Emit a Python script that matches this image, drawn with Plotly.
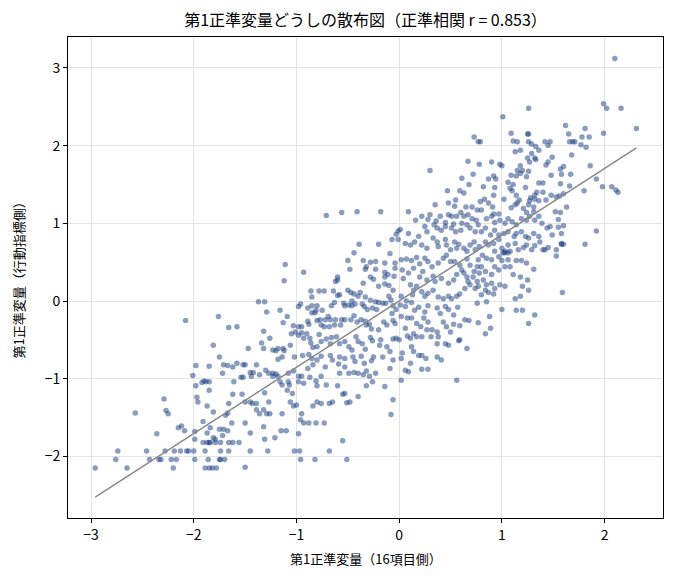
import plotly.graph_objects as go

# 正準相関（タイトル・回帰直線の傾き）
R_CANON = 0.853

# 左下の領域（16項目側 < -1.65）
lowleft = [
    (-2.08, -0.25), (-1.76, -0.20), (-1.66, -0.34), (-1.81, -0.57), (-1.75, -0.72), (-1.71, -0.82),
    (-1.67, -0.83), (-1.72, -0.93), (-1.85, -0.84), (-1.98, -0.83), (-2.01, -0.96), (-1.88, -1.04),
    (-1.90, -1.03), (-1.85, -1.04), (-1.92, -1.05), (-1.85, -1.15), (-1.98, -1.09), (-1.97, -1.24),
    (-1.96, -1.30), (-1.87, -1.35), (-1.81, -1.43), (-2.29, -1.26), (-2.27, -1.41), (-2.25, -1.45),
    (-2.57, -1.44), (-2.36, -1.71), (-2.15, -1.63), (-2.12, -1.61), (-2.09, -1.67), (-1.99, -1.68),
    (-1.99, -1.78), (-1.91, -1.55), (-1.87, -1.70), (-1.84, -1.63), (-1.91, -1.82), (-1.87, -1.82),
    (-1.85, -1.82), (-1.84, -1.82), (-1.79, -1.82), (-1.74, -1.82), (-1.66, -1.82), (-1.81, -1.76),
    (-1.79, -1.78), (-1.75, -1.65), (-1.71, -1.65), (-1.67, -1.67), (-1.67, -1.44), (-1.72, -1.73),
    (-1.66, -1.32), (-1.69, -1.47), (-2.74, -1.93), (-2.46, -1.93), (-2.28, -1.93), (-2.19, -1.93),
    (-2.13, -1.93), (-2.07, -1.93), (-2.05, -1.93), (-2.00, -1.93), (-1.89, -1.93), (-1.74, -1.93),
    (-1.66, -1.93), (-2.76, -2.04), (-2.43, -2.04), (-2.34, -2.04), (-2.32, -2.04), (-2.22, -2.04),
    (-2.17, -2.04), (-1.99, -2.04), (-1.86, -2.04), (-1.75, -2.04), (-1.74, -2.04), (-1.70, -2.04),
    (-2.96, -2.15), (-2.65, -2.15), (-2.20, -2.15), (-1.89, -2.15), (-1.85, -2.15), (-1.82, -2.15),
    (-1.78, -2.15),
]

# 中央左の領域（-1.65 〜 0）
midleft = [
    (-0.44, 0.62), (-0.09, 0.61), (-0.04, 0.49), (-0.50, 0.52), (-0.35, 0.52), (-0.28, 0.50),
    (-0.23, 0.51), (-0.14, 0.49), (-1.11, 0.47), (-0.93, 0.37), (-1.12, 0.26), (-0.48, 0.41),
    (-0.33, 0.41), (-0.32, 0.44), (-0.23, 0.41), (-0.04, 0.42), (-0.14, 0.37), (-0.11, 0.34),
    (-0.14, 0.31), (-0.05, 0.32), (-0.60, 0.31), (-0.60, 0.27), (-0.62, 0.25), (-0.28, 0.31),
    (-0.25, 0.28), (-0.35, 0.23), (-0.20, 0.19), (-0.14, 0.22), (-0.10, 0.20), (-0.06, 0.14),
    (-0.86, 0.13), (-0.78, 0.13), (-0.73, 0.13), (-0.64, 0.13), (-0.58, 0.08), (-0.50, 0.14),
    (-0.47, 0.11), (-0.44, 0.09), (-0.40, 0.06), (-0.38, 0.11), (-0.33, 0.05), (-0.28, 0.01),
    (-0.23, -0.01), (-0.13, -0.03), (-0.10, 0.06),
    (-1.37, -0.01), (-1.31, -0.01), (-1.29, -0.14), (-1.16, -0.12), (-1.09, -0.20), (-1.13, -0.28),
    (-0.96, -0.04), (-0.98, -0.07), (-0.89, -0.09), (-0.85, -0.06), (-0.85, 0.05), (-0.80, -0.06),
    (-0.82, -0.15), (-0.81, -0.12), (-0.75, -0.12), (-0.66, -0.06), (-0.63, -0.02), (-0.60, 0.07),
    (-0.54, -0.03), (-0.53, -0.06), (-0.49, -0.05), (-0.46, 0.00), (-0.46, -0.06), (-0.43, -0.04),
    (-0.36, -0.04), (-0.34, -0.07), (-0.31, -0.11), (-0.26, -0.09), (-0.22, -0.11), (-0.20, -0.02),
    (-0.16, -0.03), (-0.08, 0.01), (-0.06, -0.06), (-0.03, -0.11), (-0.07, -0.16),
    (-1.58, -0.33), (-1.32, -0.39), (-1.32, -0.61), (-1.34, -0.54), (-1.26, -0.48), (-1.47, -0.61),
    (-1.03, -0.32), (-0.98, -0.33), (-0.95, -0.33), (-0.95, -0.41), (-0.89, -0.26), (-0.88, -0.30),
    (-0.85, -0.15), (-0.80, -0.25), (-0.77, -0.24), (-0.76, -0.31), (-0.72, -0.24), (-0.73, -0.33),
    (-0.69, -0.20), (-0.67, -0.24), (-0.68, -0.33), (-0.62, -0.24), (-0.63, -0.31), (-0.57, -0.31),
    (-0.56, -0.24), (-0.53, -0.24), (-0.47, -0.24), (-0.44, -0.19), (-0.41, -0.27), (-0.37, -0.24),
    (-0.33, -0.26), (-0.32, -0.31), (-0.29, -0.30), (-0.27, -0.36), (-0.20, -0.37), (-0.15, -0.27),
    (-0.12, -0.31), (-0.06, -0.25), (-0.04, -0.29), (-0.06, -0.49), (-0.03, -0.48),
    (-1.18, -0.61), (-1.23, -0.63), (-1.20, -0.64), (-1.13, -0.61), (-1.12, -0.64), (-1.14, -0.72),
    (-1.18, -0.75), (-1.06, -0.57), (-1.05, -0.42), (-1.01, -0.40), (-0.98, -0.44), (-0.93, -0.48),
    (-0.87, -0.48), (-0.90, -0.42), (-0.86, -0.54), (-0.84, -0.60), (-0.80, -0.59), (-0.76, -0.52),
    (-0.78, -0.43), (-0.71, -0.49), (-0.67, -0.55), (-0.66, -0.47), (-0.61, -0.46), (-0.58, -0.55),
    (-0.53, -0.52), (-0.49, -0.59), (-0.46, -0.63), (-0.42, -0.46), (-0.40, -0.52), (-0.36, -0.55),
    (-0.33, -0.62), (-0.28, -0.47), (-0.26, -0.51), (-0.19, -0.57), (-0.18, -0.50), (-0.12, -0.59),
    (-0.09, -0.65),
    (-1.62, -0.85), (-1.58, -0.80), (-1.52, -0.82), (-1.50, -0.82), (-1.45, -0.92), (-1.42, -0.92),
    (-1.44, -0.97), (-1.39, -0.82), (-1.36, -0.95), (-1.54, -0.98), (-1.52, -0.98), (-1.30, -0.89),
    (-1.27, -0.93), (-1.23, -0.93), (-1.20, -0.94), (-1.18, -0.97), (-1.23, -0.97), (-1.16, -1.04),
    (-1.14, -1.08), (-1.07, -1.08), (-1.09, -1.15), (-1.04, -1.19), (-1.08, -1.04), (-1.03, -0.90),
    (-1.08, -0.93), (-0.98, -0.97), (-0.95, -0.97), (-0.98, -1.04), (-0.93, -1.06), (-0.89, -0.87),
    (-0.87, -0.98), (-0.84, -0.82), (-0.81, -1.03), (-0.76, -0.97), (-0.80, -1.09), (-0.72, -0.85),
    (-0.67, -0.70), (-0.65, -0.76), (-0.59, -0.81), (-0.58, -0.93), (-0.53, -0.85), (-0.49, -0.93),
    (-0.44, -0.92), (-0.40, -0.93), (-0.35, -0.95), (-0.32, -0.90), (-0.29, -0.97), (-0.23, -0.93),
    (-0.80, -0.76), (-0.76, -0.71), (-0.94, -0.70), (-0.88, -0.69), (-0.85, -0.74), (-1.02, -0.72),
    (-0.58, -0.72), (-0.53, -0.74), (-0.45, -0.72), (-0.43, -0.78), (-0.37, -0.71), (-0.34, -0.80),
    (-0.27, -0.77), (-0.25, -0.72), (-0.16, -0.72), (-0.06, -0.76), (-0.09, -0.87),
    (-1.62, -1.20), (-1.53, -1.20), (-1.61, -1.04), (-1.50, -1.30), (-1.45, -1.30), (-1.39, -1.40),
    (-1.36, -1.45), (-1.32, -1.40), (-1.29, -1.45), (-1.26, -1.45), (-1.43, -1.32), (-1.39, -1.32),
    (-1.31, -1.18), (-1.27, -1.30), (-1.14, -1.45), (-1.06, -1.30), (-1.03, -1.35), (-0.95, -1.45),
    (-0.96, -1.53), (-0.93, -1.57), (-0.88, -1.57), (-1.00, -1.34), (-0.84, -1.35), (-0.80, -1.30),
    (-0.76, -1.32), (-0.71, -1.08), (-0.68, -1.32), (-0.65, -1.30), (-0.60, -1.09), (-0.55, -1.20),
    (-0.53, -1.19), (-0.51, -1.31), (-0.48, -1.30), (-0.40, -1.23), (-0.32, -1.09), (-0.26, -1.04),
    (-0.14, -1.10), (-0.06, -1.27), (-0.08, -1.46), (-0.81, -1.57), (-0.73, -1.57), (-1.15, -1.67),
    (-1.10, -1.67), (-0.98, -1.71), (-1.32, -1.62), (-1.45, -1.70), (-1.56, -1.82), (-1.62, -1.82),
    (-1.50, -1.57), (-1.63, -1.57), (-1.31, -1.78), (-1.21, -1.76), (-1.45, -1.93), (-1.28, -1.93),
    (-1.02, -1.93), (-0.97, -1.93), (-0.96, -2.04), (-0.82, -2.04), (-0.68, -1.93), (-0.55, -1.80),
    (-0.51, -2.04), (-1.50, -2.14),
    (-0.71, 1.10), (-0.56, 1.14), (-0.41, 1.15), (-0.18, 1.15), (-0.39, 0.73), (-0.20, 0.73),
    (-0.03, 0.86), (-0.01, 0.90), (-0.07, 0.79), (-0.01, 0.79),
]

# 中央右の領域（0 〜 1.6）
center = [
    (0.73, 2.11), (0.77, 2.05), (0.67, 1.80), (0.78, 1.76), (0.30, 1.68),
    (0.61, 1.58), (0.72, 1.63), (0.68, 1.50), (0.59, 1.42), (0.63, 1.39), (0.47, 1.42),
    (0.35, 1.24), (0.48, 1.26), (0.55, 1.30), (0.54, 1.22), (0.09, 1.15), (0.65, 1.21),
    (0.71, 1.21), (0.76, 1.17),
    (0.22, 1.09), (0.28, 1.05), (0.30, 1.11), (0.40, 1.09), (0.45, 1.01), (0.36, 1.03),
    (0.48, 1.11), (0.51, 1.09), (0.56, 1.09), (0.60, 1.14), (0.63, 1.09), (0.67, 1.11),
    (0.71, 1.06), (0.75, 1.04), (0.16, 1.04), (0.01, 0.92), (0.09, 0.87), (0.19, 0.83),
    (0.25, 0.96), (0.27, 0.89), (0.34, 0.98), (0.37, 0.94), (0.41, 0.91), (0.45, 0.96),
    (0.51, 0.94), (0.53, 0.99), (0.55, 0.89), (0.60, 0.91), (0.61, 1.00), (0.66, 0.98),
    (0.69, 0.94), (0.74, 0.89), (0.77, 0.98),
    (0.06, 0.74), (0.11, 0.72), (0.15, 0.76), (0.22, 0.72), (0.27, 0.68), (0.33, 0.81),
    (0.37, 0.76), (0.38, 0.70), (0.45, 0.79), (0.46, 0.72), (0.50, 0.66), (0.54, 0.76),
    (0.56, 0.68), (0.58, 0.73), (0.63, 0.68), (0.66, 0.64), (0.69, 0.72), (0.73, 0.76),
    (0.74, 0.66), (0.78, 0.70),
    (0.02, 0.53), (0.07, 0.54), (0.12, 0.52), (0.17, 0.56), (0.20, 0.48), (0.25, 0.55),
    (0.28, 0.51), (0.32, 0.44), (0.38, 0.49), (0.43, 0.55), (0.46, 0.59), (0.50, 0.51),
    (0.54, 0.51), (0.59, 0.46), (0.61, 0.40), (0.66, 0.54), (0.69, 0.46), (0.73, 0.38),
    (0.76, 0.44), (0.77, 0.53),
    (0.03, 0.40), (0.09, 0.36), (0.14, 0.42), (0.20, 0.31), (0.23, 0.38), (0.27, 0.27),
    (0.33, 0.32), (0.35, 0.25), (0.41, 0.29), (0.48, 0.23), (0.53, 0.27), (0.56, 0.34),
    (0.63, 0.36), (0.66, 0.31), (0.67, 0.25), (0.72, 0.31), (0.76, 0.25), (0.78, 0.36),
    (0.04, 0.29), (0.11, 0.21), (0.14, 0.14), (0.17, 0.19), (0.22, 0.12), (0.25, 0.06),
    (0.28, 0.10), (0.33, 0.14), (0.38, 0.05), (0.43, 0.03), (0.48, 0.06), (0.51, 0.03),
    (0.56, 0.06), (0.59, 0.09), (0.64, 0.16), (0.69, 0.21), (0.74, 0.16), (0.77, 0.19),
    (0.02, 0.06), (0.07, 0.00), (0.13, 0.08),
    (0.01, -0.05), (0.06, -0.07), (0.12, -0.02), (0.15, -0.12), (0.19, -0.08), (0.25, -0.14),
    (0.28, -0.06), (0.37, -0.09), (0.40, -0.16), (0.45, -0.07), (0.48, -0.11), (0.53, -0.18),
    (0.57, -0.08), (0.64, -0.24), (0.68, -0.25), (0.76, -0.03),
    (0.02, -0.20), (0.08, -0.22), (0.12, -0.22), (0.17, -0.29), (0.21, -0.33), (0.24, -0.22),
    (0.28, -0.27), (0.32, -0.37), (0.37, -0.40), (0.43, -0.27), (0.46, -0.33), (0.50, -0.40),
    (0.53, -0.30), (0.59, -0.32), (0.77, -0.28), (0.84, -0.42), (0.89, -0.35),
    (0.06, -0.35), (0.08, -0.45), (0.11, -0.48), (0.14, -0.42), (0.17, -0.46), (0.22, -0.46),
    (0.27, -0.37), (0.31, -0.46), (0.37, -0.55), (0.38, -0.46), (0.45, -0.55), (0.48, -0.57),
    (0.58, -0.51), (0.59, -0.50), (0.66, -0.61), (0.00, -0.50), (0.03, -0.67), (0.02, -0.74),
    (0.12, -0.59), (0.14, -0.65), (0.19, -0.70), (0.22, -0.70), (0.26, -0.74), (0.11, -0.80),
    (0.06, -0.89), (0.09, -0.91), (0.22, -0.88), (0.28, -0.88), (0.37, -0.72), (0.41, -0.76),
    (0.02, -1.02), (0.56, -1.02),
    (0.85, 1.06), (0.90, 1.09), (0.93, 1.01), (0.98, 1.04), (1.03, 1.00), (1.06, 1.06),
    (1.10, 1.02), (1.14, 0.98), (1.19, 1.06), (1.24, 1.04), (1.27, 1.09), (1.32, 1.04),
    (1.36, 1.09), (1.39, 1.00), (1.44, 0.94), (1.47, 0.96), (1.49, 0.85), (1.55, 1.05),
    (1.58, 0.87), (1.55, 0.95),
    (0.80, 0.89), (0.84, 0.94), (0.89, 0.85), (0.93, 0.91), (0.97, 0.85), (1.02, 0.87),
    (1.06, 0.89), (1.12, 0.83), (1.14, 0.87), (1.19, 0.89), (1.23, 0.83), (1.26, 0.81),
    (1.31, 0.87), (1.36, 0.83), (1.37, 0.76), (1.40, 0.66), (1.42, 0.66), (1.45, 0.69),
    (1.53, 0.66), (1.53, 0.58), (1.58, 0.74),
    (0.84, 0.76), (0.87, 0.72), (0.92, 0.74), (0.97, 0.79), (1.00, 0.68), (1.03, 0.64),
    (1.06, 0.72), (1.08, 0.64), (1.13, 0.74), (1.16, 0.66), (1.21, 0.69), (1.24, 0.72),
    (1.29, 0.66), (1.32, 0.71), (1.01, 0.62), (1.03, 0.62), (1.06, 0.62), (1.14, 0.52),
    (1.19, 0.52), (1.24, 0.49), (1.31, 0.41), (1.11, 0.34), (1.18, 0.31), (1.20, 0.19),
    (1.25, 0.27), (1.26, 0.14), (1.13, 0.03), (1.18, 0.06), (1.00, -0.11), (1.14, -0.12),
    (1.20, -0.12), (1.32, -0.18), (1.26, -0.29),
    (0.81, 0.59), (0.85, 0.55), (0.90, 0.53), (0.93, 0.64), (0.97, 0.57), (1.00, 0.52),
    (0.80, 0.44), (0.84, 0.38), (0.90, 0.34), (0.93, 0.44), (0.97, 0.40), (1.03, 0.44),
    (1.06, 0.53), (1.08, 0.44), (0.82, 0.27), (0.85, 0.21), (0.90, 0.23), (0.93, 0.16),
    (0.98, 0.21), (1.03, 0.19), (0.84, 0.14), (0.87, 0.11), (0.92, 0.09), (0.80, 0.08),
    (0.85, -0.01), (0.88, -0.20),
]

# 右上の領域
upright = [
    (2.10, 3.12), (1.99, 2.54), (2.02, 2.48), (2.16, 2.48), (1.26, 2.48), (1.01, 2.37),
    (1.62, 2.26), (2.31, 2.22), (1.81, 2.22), (1.09, 2.16), (1.25, 2.15), (1.26, 2.15),
    (1.65, 2.15), (1.78, 2.11), (1.85, 2.11), (1.99, 2.16), (1.11, 2.06), (1.15, 2.05),
    (1.26, 2.05), (1.29, 2.02), (1.42, 2.05), (1.47, 2.05), (1.66, 2.05), (1.69, 2.05),
    (1.71, 2.05), (1.45, 2.00), (1.33, 1.99), (1.77, 2.01), (1.82, 1.98), (0.79, 2.05),
    (1.13, 1.92), (1.18, 1.94), (1.36, 1.94), (1.68, 1.88), (1.29, 1.90), (1.25, 1.84),
    (1.32, 1.84), (1.49, 1.85), (1.27, 1.79), (1.33, 1.82), (0.90, 1.79), (0.98, 1.76),
    (1.00, 1.74), (1.45, 1.79), (1.43, 1.75), (1.18, 1.74), (1.86, 1.74), (1.60, 1.73),
    (1.57, 1.70), (1.15, 1.68), (1.20, 1.68), (1.26, 1.67), (1.18, 1.64), (1.09, 1.62),
    (1.14, 1.61), (1.48, 1.62), (1.24, 1.60), (0.92, 1.61), (0.94, 1.57), (0.87, 1.57),
    (1.67, 1.63), (1.58, 1.63), (1.92, 1.57), (0.82, 1.47), (0.93, 1.46), (1.06, 1.53),
    (1.08, 1.45), (1.10, 1.42), (1.11, 1.50), (1.23, 1.46), (1.36, 1.52), (1.40, 1.52),
    (1.57, 1.51), (1.66, 1.48), (1.34, 1.40), (1.32, 1.36), (1.40, 1.40), (1.28, 1.33),
    (1.48, 1.36), (1.56, 1.35), (1.60, 1.38), (1.80, 1.42), (1.98, 1.47), (2.07, 1.47),
    (2.11, 1.43), (2.13, 1.40), (0.92, 1.36), (0.83, 1.31), (1.02, 1.31), (1.14, 1.36),
    (1.17, 1.30), (1.27, 1.29), (1.32, 1.31), (1.36, 1.29), (1.53, 1.34), (0.79, 1.28),
    (0.87, 1.26), (0.91, 1.21), (1.09, 1.20), (1.13, 1.24), (1.15, 1.26), (1.26, 1.24),
    (1.21, 1.19), (1.31, 1.21), (1.43, 1.30), (1.63, 1.21), (1.52, 1.15), (1.57, 1.14),
    (0.80, 1.17), (0.92, 1.12), (0.97, 1.12), (1.24, 1.14), (1.31, 1.15),
    (1.60, 0.97), (1.92, 0.90), (1.58, 0.73), (1.60, 0.73), (1.81, 0.73), (1.59, 0.11),
]

points = lowleft + midleft + center + upright
xs = [p[0] for p in points]
ys = [p[1] for p in points]

FONT = "Noto Sans CJK JP, Noto Sans, sans-serif"

fig = go.Figure()
fig.add_trace(go.Scatter(
    x=xs, y=ys, mode="markers",
    marker=dict(size=5.5, color="#183c80", opacity=0.5, line=dict(width=0)),
    hoverinfo="skip", showlegend=False,
))

# 回帰直線（傾き = r）
x_lo, x_hi = min(xs), max(xs)
fig.add_trace(go.Scatter(
    x=[x_lo, x_hi], y=[R_CANON * x_lo, R_CANON * x_hi], mode="lines",
    line=dict(color="#888888", width=1.5), hoverinfo="skip", showlegend=False,
))

axis_style = dict(
    showline=True, mirror=True, linecolor="black", linewidth=1,
    ticks="outside", ticklen=4, tickcolor="black",
    showgrid=True, gridcolor="#e3e3e3", gridwidth=1, zeroline=False,
    tickfont=dict(size=14, color="black", family=FONT),
    automargin=False,
)

# ページ本体の余白（8px）を差し引いた配置
fig.update_layout(
    width=675, height=580,
    margin=dict(l=60, r=20, t=29, b=70),
    paper_bgcolor="white", plot_bgcolor="white",
    font=dict(family=FONT, color="black"),
    title=dict(text="第1正準変量どうしの散布図（正準相関 r = 0.853）",
               x=0.5, xanchor="center", xref="paper", y=1 - 12 / 580, yanchor="middle",
               font=dict(size=16, color="black", family=FONT)),
    xaxis=dict(range=[-3.225, 2.569], tickvals=[-3, -2, -1, 0, 1, 2], **axis_style),
    yaxis=dict(range=[-2.793, 3.398], tickvals=[-2, -1, 0, 1, 2, 3], **axis_style),
    annotations=[
        dict(text="第1正準変量（16項目側）", xref="paper", yref="paper",
             x=0.5, y=-40 / 481, xanchor="center", yanchor="middle", showarrow=False,
             font=dict(size=13, color="black", family=FONT)),
        dict(text="第1正準変量（行動指標側）", xref="paper", yref="paper",
             x=-50 / 595, y=0.5, xanchor="center", yanchor="middle", textangle=-90,
             showarrow=False, font=dict(size=13, color="black", family=FONT)),
    ],
)

fig.write_html("out.html")
